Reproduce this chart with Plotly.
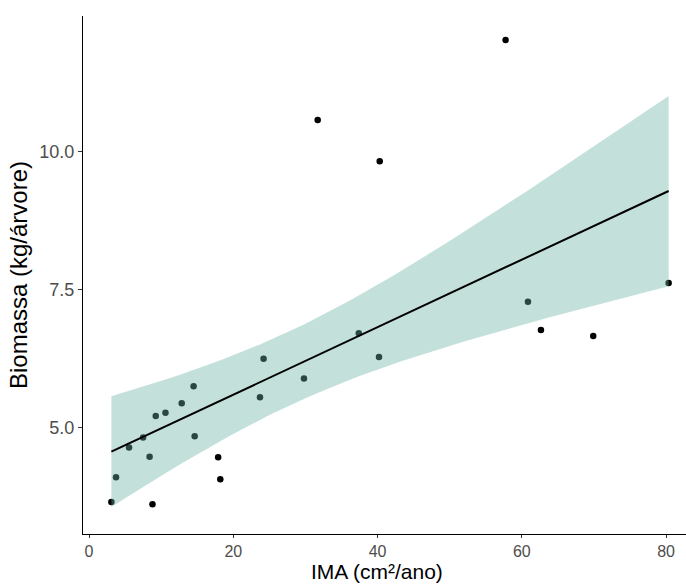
import numpy as np
import plotly.graph_objects as go

ima = [3.1, 3.75, 5.55, 7.5, 8.4, 8.8, 9.25, 10.6, 12.85, 14.5, 14.65, 17.9, 18.2,
       23.7, 24.2, 29.8, 31.7, 40.3, 57.75, 37.4, 40.2, 60.85, 62.65, 69.9, 80.35]
biomassa = [3.65, 4.10, 4.64, 4.82, 4.47, 3.61, 5.21, 5.27, 5.44, 5.75, 4.84, 4.46, 4.06,
            5.55, 6.25, 5.89, 10.58, 9.83, 12.03, 6.71, 6.28, 7.28, 6.77, 6.66, 7.62]

x_ticks = [0, 20, 40, 60, 80]
y_ticks = [5.0, 7.5, 10.0]
y_tick_labels = ["5.0", "7.5", "10.0"]

# Linear model with 95% confidence band (like geom_smooth(method="lm"))
x = np.array(ima)
y = np.array(biomassa)
n = len(x)
b1, b0 = np.polyfit(x, y, 1)
resid = y - (b0 + b1 * x)
s = np.sqrt(np.sum(resid ** 2) / (n - 2))
t_crit = 2.0687  # t(0.975, df=23)
xg = np.linspace(x.min(), x.max(), 80)
yg = b0 + b1 * xg
se = s * np.sqrt(1.0 / n + (xg - x.mean()) ** 2 / np.sum((x - x.mean()) ** 2))
lo = yg - t_crit * se
hi = yg + t_crit * se

fig = go.Figure()
fig.add_trace(go.Scatter(x=ima, y=biomassa, mode="markers",
                         marker=dict(color="black", size=6.5, line=dict(width=0)),
                         showlegend=False, hoverinfo="skip"))
fig.add_trace(go.Scatter(x=np.concatenate([xg, xg[::-1]]),
                         y=np.concatenate([hi, lo[::-1]]),
                         fill="toself", fillcolor="rgba(105,179,162,0.4)",
                         line=dict(width=0), mode="lines",
                         showlegend=False, hoverinfo="skip"))
fig.add_trace(go.Scatter(x=xg, y=yg, mode="lines",
                         line=dict(color="black", width=2),
                         showlegend=False, hoverinfo="skip"))

plot_h = 584 - 16 - 50
fig.add_annotation(text="IMA (cm²/ano)", xref="paper", yref="paper",
                   x=(377 - 83) / (686 - 83), y=-50 / plot_h,
                   xanchor="center", yanchor="bottom", showarrow=False,
                   borderpad=0, font=dict(size=21, color="black"))

fig.update_layout(
    width=686, height=584,
    margin=dict(l=83, r=0, t=16, b=50),
    plot_bgcolor="white", paper_bgcolor="white",
    font=dict(family="Liberation Sans, Arial, sans-serif"),
    xaxis=dict(range=[-0.832, 82.76], tickvals=x_ticks, showgrid=False, zeroline=False,
               showline=True, linecolor="black", linewidth=1.2,
               ticks="outside", ticklen=3, tickcolor="#333333", tickwidth=1.1,
               tickfont=dict(size=16, color="#4d4d4d")),
    yaxis=dict(range=[3.069, 12.465], tickvals=y_ticks, ticktext=y_tick_labels,
               showgrid=False, zeroline=False,
               showline=True, linecolor="black", linewidth=1.2,
               ticks="outside", ticklen=4, tickcolor="#333333", tickwidth=1.1,
               tickfont=dict(size=18, color="#4d4d4d"),
               title=dict(text="Biomassa (kg/árvore)", font=dict(size=24, color="black"), standoff=4)),
)

fig.write_html("out.html")
